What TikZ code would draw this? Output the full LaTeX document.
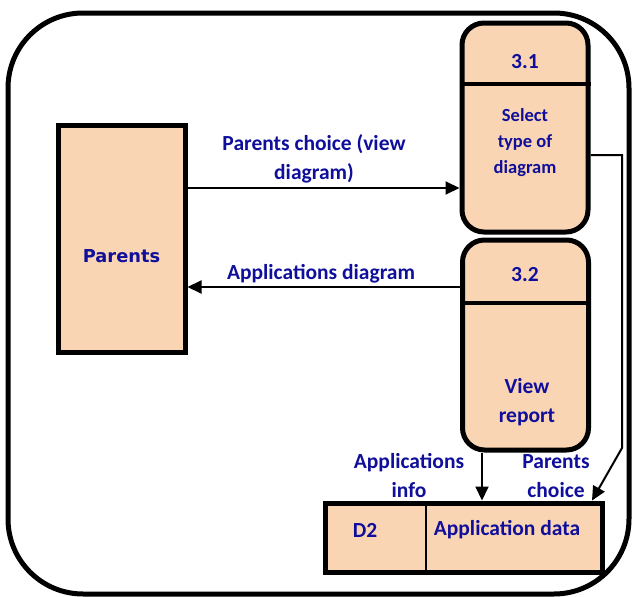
\documentclass[tikz,border=0pt]{standalone}
\usepackage{fontspec}
\setmainfont{Carlito}
\newfontfamily\parentsfont{DejaVu Sans}
\usetikzlibrary{arrows.meta}
\definecolor{peach}{RGB}{250,213,180}
\definecolor{dfdblue}{RGB}{15,15,155}
\tikzset{
  flow/.style={line width=2pt,-{Triangle[length=14pt,width=13pt]}},
  lbl/.style={text=dfdblue,font=\fontsize{21.5}{29}\selectfont\bfseries,align=center,yshift=-2pt},
  proc/.style={draw,line width=5pt,fill=peach,rounded corners=22pt,minimum width=126pt},
}
\begin{document}
\begin{tikzpicture}[x=1pt,y=-1pt]
\useasboundingbox (0,0) rectangle (633,597);
\draw[line width=5pt,rounded corners=75pt] (8,13) rectangle (629,594);
% external entity
\node[draw,line width=5pt,fill=peach,minimum width=127pt,minimum height=227pt] (parents) at (121.5,238.5) {};
\node[text=dfdblue,font=\parentsfont\fontsize{17.8}{20}\selectfont\bfseries] (parentstxt) at (121.5,256) {Parents};
% processes
\node[proc,minimum height=209pt] (p31) at (525,127.5) {};
\draw[line width=4pt] (p31.west |- 0,84) -- (p31.east |- 0,84);
\node[lbl] (p31id) at (525,60) {3.1};
\node[lbl,font=\fontsize{18.5}{26}\selectfont\bfseries] (p31txt) at (525,141) {Select\\type of\\diagram};
\node[proc,minimum height=210pt] (p32) at (525.5,345) {};
\draw[line width=4pt] (p32.west |- 0,303) -- (p32.east |- 0,303);
\node[lbl] (p32id) at (525,273) {3.2};
\node[lbl] (p32txt) at (527,400) {View\\report};
% data store
\node[draw,line width=5pt,fill=peach,minimum width=277pt,minimum height=69pt] (store) at (463.5,537.5) {};
\draw[line width=2pt] (426,503) -- (426,572);
\node[lbl] (storeid) at (365,528) {D2};
\node[lbl] (storetxt) at (507,528) {Application data};
% flows
\draw[flow] (parents.east |- 0,188) -- (p31.west |- 0,188);
\node[lbl] (f1) at (314,157) {Parents choice (view\\diagram)};
\draw[flow] (p32.west |- 0,287) -- (parents.east |- 0,287);
\node[lbl] (f2) at (321,272) {Applications diagram};
\draw[flow] (p32.south -| 482,0) -- (store.north -| 482,0);
\node[lbl] (f3) at (409,474) {Applications\\info};
\draw[flow] (p31.east |- 0,155) -- (622,155) -- (622,448) -- (store.north -| 592,0);
\node[lbl] (f4) at (556,474) {Parents\\choice};
\end{tikzpicture}
\end{document}
